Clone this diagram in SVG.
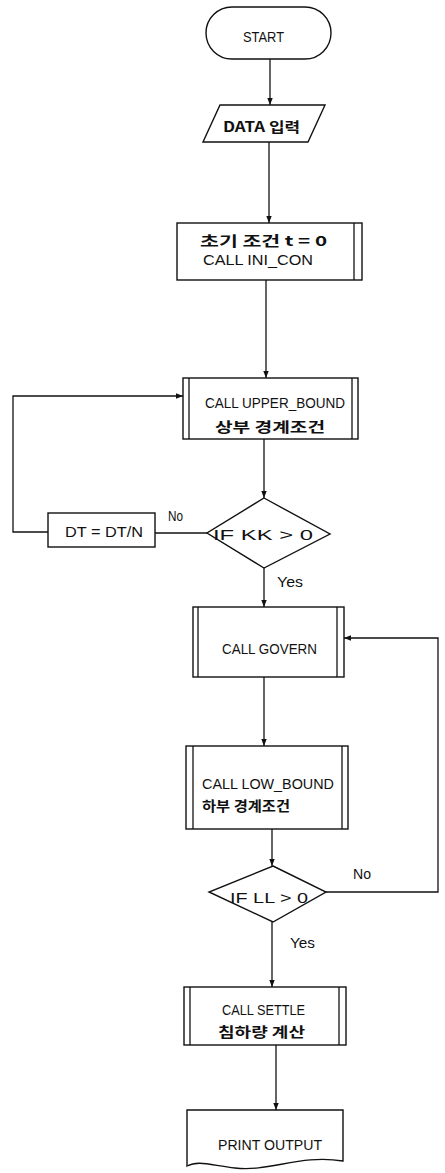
<svg xmlns="http://www.w3.org/2000/svg" width="445" height="1173" viewBox="0 0 445 1173">
<style>
.s{fill:#fff;stroke:#111;stroke-width:1.4}
.l{fill:none;stroke:#111;stroke-width:1.3}
.t{font-family:"Liberation Sans","Noto Sans CJK KR",sans-serif;font-size:15px;fill:#111}
.k{font-family:"Noto Sans CJK KR","Liberation Sans",sans-serif;font-size:14px;font-weight:bold;fill:#111}
</style>
<defs>
<marker id="a" markerWidth="8" markerHeight="8" refX="7" refY="4" orient="auto" markerUnits="userSpaceOnUse">
<path d="M0,1.3 L7,4 L0,6.7 Z" fill="#111"/>
</marker>
</defs>
<rect width="445" height="1173" fill="#fff"/>
<g id="connectors">
<path class="l" d="M270,59 V105" marker-end="url(#a)"/>
<path class="l" d="M269,142 V223" marker-end="url(#a)"/>
<path class="l" d="M266,280 V378" marker-end="url(#a)"/>
<path class="l" d="M264,439 V498" marker-end="url(#a)"/>
<path class="l" d="M207,533 H155"/>
<path class="l" d="M48,532 H13 V396 H183" marker-end="url(#a)"/>
<path class="l" d="M264,568 V607" marker-end="url(#a)"/>
<path class="l" d="M264,677 V746" marker-end="url(#a)"/>
<path class="l" d="M272,829 V866" marker-end="url(#a)"/>
<path class="l" d="M326,892 H438 V638 H344" marker-end="url(#a)"/>
<path class="l" d="M272,922 V987" marker-end="url(#a)"/>
<path class="l" d="M276,1045 V1110" marker-end="url(#a)"/>
<text class="t" x="277" y="587" textLength="26" lengthAdjust="spacingAndGlyphs">Yes</text>
<text class="t" x="168" y="521" textLength="15" lengthAdjust="spacingAndGlyphs">No</text>
<text class="t" x="353" y="879" textLength="18" lengthAdjust="spacingAndGlyphs">No</text>
<text class="t" x="290" y="948" textLength="25" lengthAdjust="spacingAndGlyphs">Yes</text>
</g>
<g id="start">
<rect class="s" x="206" y="7" width="125" height="52" rx="26" ry="26"/>
<text class="t" x="243" y="42" textLength="41" lengthAdjust="spacingAndGlyphs">START</text>
</g>
<g id="data">
<path class="s" d="M220,105 H325 L308,142 H203 Z"/>
<text class="k" x="223" y="132" textLength="77" lengthAdjust="spacingAndGlyphs">DATA 입력</text>
</g>
<g id="init">
<rect class="s" x="177" y="223" width="185" height="57"/>
<line class="l" x1="354" y1="223" x2="354" y2="280"/>
<text class="k" x="200" y="246" textLength="127" lengthAdjust="spacingAndGlyphs">초기 조건 t = 0</text>
<text class="t" x="203" y="265" textLength="110" lengthAdjust="spacingAndGlyphs">CALL INI_CON</text>
</g>
<g id="upper">
<rect class="s" x="183" y="378" width="175" height="61"/>
<line class="l" x1="189" y1="378" x2="189" y2="439"/>
<line class="l" x1="352" y1="378" x2="352" y2="439"/>
<text class="t" x="205" y="408" textLength="140" lengthAdjust="spacingAndGlyphs">CALL UPPER_BOUND</text>
<text class="k" x="215" y="432" textLength="110" lengthAdjust="spacingAndGlyphs">상부 경계조건</text>
</g>
<g id="ifkk">
<path class="s" d="M264,498 L330,534 L264,568 L207,533 Z"/>
<text class="t" x="213" y="540" textLength="100" lengthAdjust="spacingAndGlyphs">IF  KK &gt; 0</text>
</g>
<g id="dt">
<rect class="s" x="48" y="513" width="107" height="34"/>
<text class="t" x="65" y="537" textLength="78" lengthAdjust="spacingAndGlyphs">DT = DT/N</text>
</g>
<g id="govern">
<rect class="s" x="193" y="607" width="151" height="70"/>
<line class="l" x1="198" y1="607" x2="198" y2="677"/>
<line class="l" x1="337" y1="607" x2="337" y2="677"/>
<text class="t" x="222" y="654" textLength="95" lengthAdjust="spacingAndGlyphs">CALL GOVERN</text>
</g>
<g id="low">
<rect class="s" x="186" y="746" width="162" height="83"/>
<line class="l" x1="193" y1="746" x2="193" y2="829"/>
<line class="l" x1="342" y1="746" x2="342" y2="829"/>
<text class="t" x="202" y="789" textLength="132" lengthAdjust="spacingAndGlyphs">CALL LOW_BOUND</text>
<text class="k" x="202" y="811" textLength="88" lengthAdjust="spacingAndGlyphs">하부 경계조건</text>
</g>
<g id="ifll">
<path class="s" d="M273,866 L326,892 L273,922 L209,892 Z"/>
<text class="t" x="230" y="903" textLength="78" lengthAdjust="spacingAndGlyphs">IF LL &gt; 0</text>
</g>
<g id="settle">
<rect class="s" x="184" y="987" width="162" height="58"/>
<line class="l" x1="190" y1="987" x2="190" y2="1045"/>
<line class="l" x1="339" y1="987" x2="339" y2="1045"/>
<text class="t" x="222" y="1015" textLength="83" lengthAdjust="spacingAndGlyphs">CALL SETTLE</text>
<text class="k" x="218" y="1037" textLength="87" lengthAdjust="spacingAndGlyphs">침하량 계산</text>
</g>
<g id="print">
<path class="s" d="M187,1110 H343 V1161 C300,1154 270,1172 235,1168 C210,1165 198,1160 187,1166 Z"/>
<text class="t" x="218" y="1150" textLength="104" lengthAdjust="spacingAndGlyphs">PRINT OUTPUT</text>
</g>
</svg>
